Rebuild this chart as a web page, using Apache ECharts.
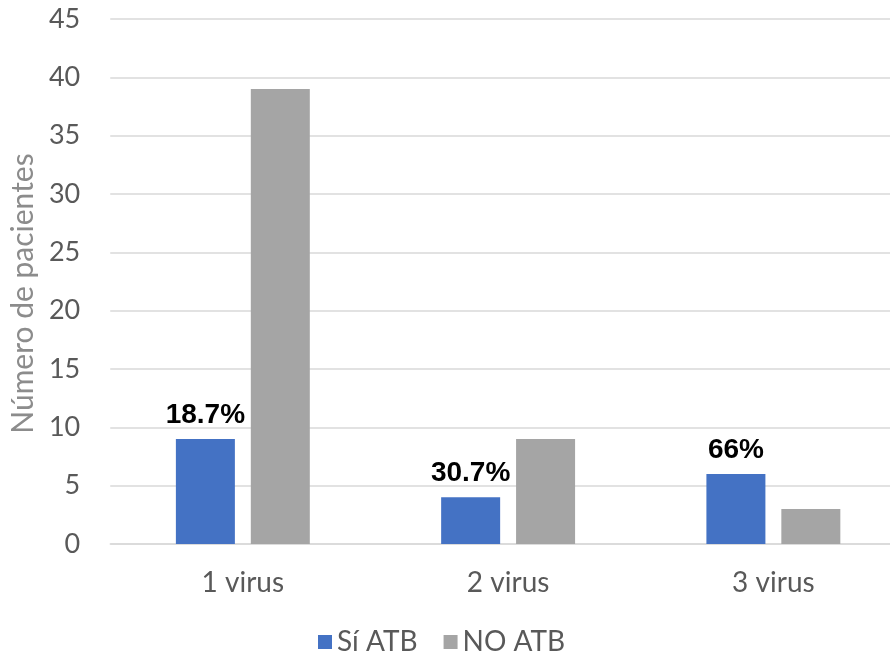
<!DOCTYPE html>
<html>
<head>
<meta charset="utf-8">
<script src="https://cdn.jsdelivr.net/npm/echarts@6/dist/echarts.min.js"></script>
<style>
  html, body { margin: 0; padding: 0; background: #fff; overflow: hidden; }
  #chart { width: 906px; height: 658px; }
</style>
</head>
<body>
<div id="chart"></div>
<script>
// Patients by number of viruses detected, split by antibiotic use
const categories = ['1 virus', '2 virus', '3 virus'];
const siATB = [9, 4, 6];
const noATB = [39, 9, 3];
const siATBLabels = ['18.7%', '30.7%', '66%'];
const yTicks = { min: 0, max: 45, interval: 5 };

const chart = echarts.init(document.getElementById('chart'));
const tickFont = 'Lato, "Open Sans", sans-serif';

chart.setOption({
  animation: false,
  grid: { left: 110, right: 0, top: 19, bottom: 114 },
  legend: {
    bottom: 2,
    left: 318,
    padding: 0,
    itemWidth: 14,
    itemHeight: 14,
    itemGap: 26,
    icon: 'rect',
    textStyle: { fontFamily: tickFont, fontSize: 28, color: '#595959' },
    data: ['Sí ATB', 'NO ATB']
  },
  xAxis: {
    type: 'category',
    data: categories,
    axisLine: { lineStyle: { color: '#D9D9D9', width: 1.5 } },
    axisTick: { show: false },
    axisLabel: { fontFamily: tickFont, fontSize: 28, color: '#595959', margin: 25 }
  },
  yAxis: {
    type: 'value',
    min: yTicks.min,
    max: yTicks.max,
    interval: yTicks.interval,
    name: 'Número de pacientes',
    nameLocation: 'middle',
    nameGap: 67,
    nameTextStyle: { fontFamily: tickFont, fontSize: 30, color: '#8C8C8C', padding: [0, 24, 0, 0] },
    axisLine: { show: false },
    axisTick: { show: false },
    splitLine: { lineStyle: { color: '#D9D9D9', width: 1.5 } },
    axisLabel: { fontFamily: tickFont, fontSize: 27, color: '#595959', margin: 30 }
  },
  series: [
    {
      name: 'Sí ATB',
      type: 'bar',
      data: siATB,
      barWidth: 59,
      barGap: '27%',
      itemStyle: { color: '#4472C4' },
      label: {
        show: true,
        position: 'top',
        distance: 10,
        formatter: p => siATBLabels[p.dataIndex],
        fontFamily: '"Liberation Sans", Arial, sans-serif',
        fontWeight: 'bold',
        fontSize: 28,
        color: '#000'
      }
    },
    {
      name: 'NO ATB',
      type: 'bar',
      data: noATB,
      barWidth: 59,
      itemStyle: { color: '#A5A5A5' }
    }
  ]
});
</script>
</body>
</html>
